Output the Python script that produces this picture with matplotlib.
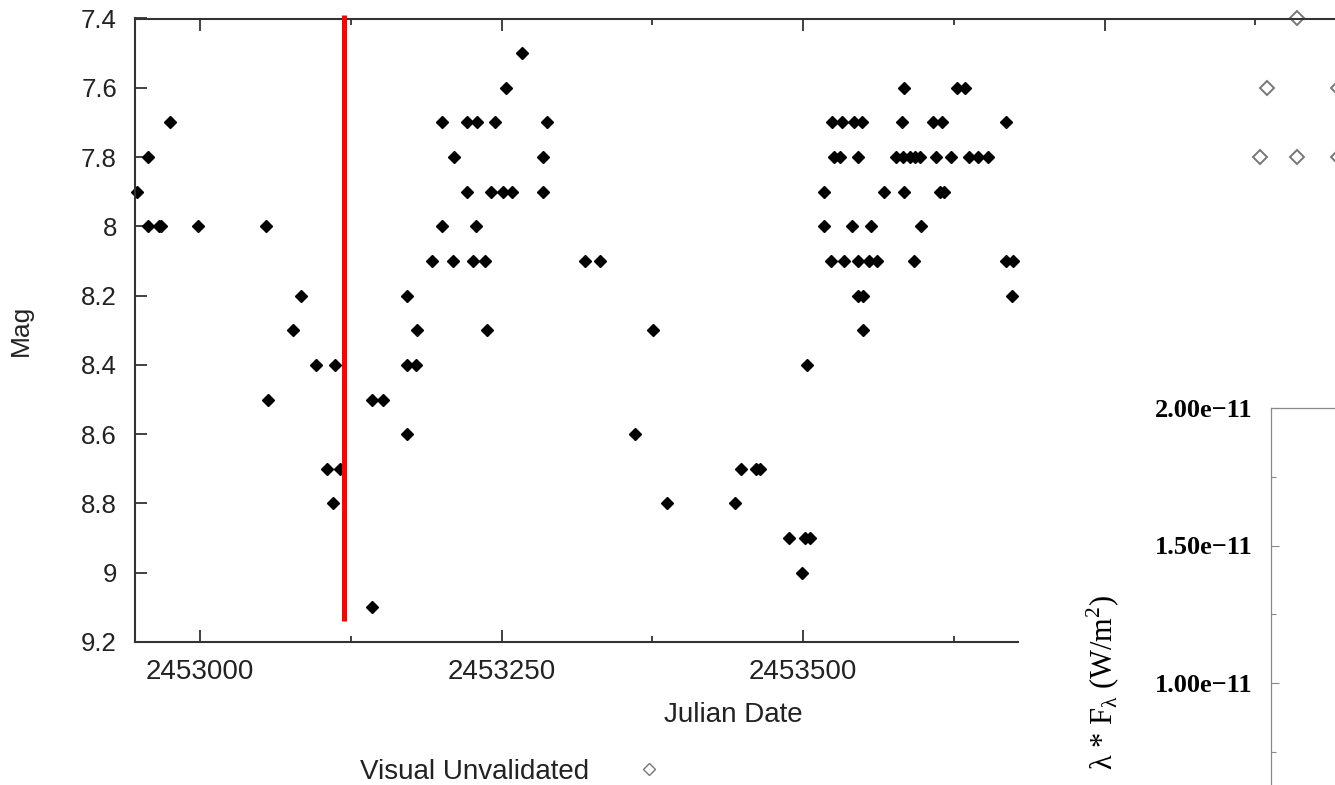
import matplotlib
matplotlib.use("Agg")
import matplotlib.pyplot as plt
from matplotlib.lines import Line2D
from matplotlib.patches import Rectangle
from matplotlib.ticker import FixedLocator, FuncFormatter, MultipleLocator

plt.rcParams['font.family'] = ['Liberation Sans', 'DejaVu Sans']

# Visual observations (filled diamonds), one list of Julian dates per magnitude
mag_rows = [7.5, 7.6, 7.7, 7.8, 7.9, 8.0, 8.1, 8.2, 8.3, 8.4, 8.5, 8.6, 8.7, 8.8, 8.9, 9.0, 9.1]
jd_rows = [
    [2453267],
    [2453254, 2453584, 2453628, 2453634],
    [2452975, 2453201, 2453221, 2453230, 2453245, 2453288, 2453524, 2453532,
     2453542, 2453549, 2453582, 2453608, 2453615, 2453668],
    [2452957, 2453211, 2453284, 2453526, 2453531, 2453546, 2453577, 2453583,
     2453589, 2453593, 2453597, 2453610, 2453623, 2453638, 2453645, 2453653],
    [2452948, 2453221, 2453241, 2453251, 2453259, 2453284, 2453517, 2453567,
     2453584, 2453614, 2453617],
    [2452957, 2452966, 2452968, 2452998, 2453055, 2453201, 2453229, 2453517,
     2453541, 2453556, 2453598],
    [2453192, 2453210, 2453226, 2453236, 2453319, 2453332, 2453523, 2453534,
     2453546, 2453555, 2453561, 2453592, 2453668, 2453674],
    [2453084, 2453172, 2453546, 2453550, 2453673],
    [2453077, 2453180, 2453238, 2453376, 2453550],
    [2453096, 2453112, 2453172, 2453179, 2453503],
    [2453056, 2453143, 2453152],
    [2453172, 2453361],
    [2453105, 2453116, 2453449, 2453461, 2453464],
    [2453110, 2453387, 2453444],
    [2453488, 2453502, 2453506],
    [2453499],
    [2453143],
]

# Visual unvalidated observations (open diamonds)
jd_unval = [2453910, 2453885, 2453879, 2453910, 2453944, 2453944]
mag_unval = [7.4, 7.6, 7.8, 7.8, 7.6, 7.8]

# red marker line
marker_jd = 2453119
marker_mag = [7.39, 9.14]

# fragment of the flux plot in the lower right
flux_ticks = [1.0e-11, 1.5e-11, 2.0e-11]
flux_minor = [0.75e-11, 1.25e-11, 1.75e-11]
flux_labels = ['1.00e\u221211', '1.50e\u221211', '2.00e\u221211']

jd = [d for row in jd_rows for d in row]
mag = [m for m, row in zip(mag_rows, jd_rows) for _ in row]

W, H = 1335, 785
fig = plt.figure(figsize=(W / 100, H / 100), dpi=100)


def box(left, top, right, bottom):
    return [left / W, 1 - bottom / H, (right - left) / W, (bottom - top) / H]


ax = fig.add_axes(box(135, 18.5, 1345, 642))
ax.plot(jd, mag, linestyle='none', marker='D', ms=6, mfc='black', mec='black',
        mew=1, clip_on=False, zorder=2)
ax.plot(jd_unval, mag_unval, linestyle='none', marker='D', ms=7, mfc='white',
        mec='#777777', mew=1.4, clip_on=False, zorder=2)
ax.plot([marker_jd, marker_jd], marker_mag, color='red', lw=3.6,
        solid_capstyle='butt', clip_on=False, zorder=3)

ax.set_xlim(2452946.1, 2452946.1 + 1210 / 1.206)
ax.set_ylim(9.2, 7.4)
ax.xaxis.set_major_locator(MultipleLocator(250))
ax.xaxis.set_minor_locator(MultipleLocator(125))
ax.yaxis.set_major_locator(MultipleLocator(0.2))
ax.yaxis.set_major_formatter(FuncFormatter(lambda v, p: f"{round(v, 1):g}"))
# labels past 2453600 would sit under the cut-out, so leave them blank
ax.xaxis.set_major_formatter(
    FuncFormatter(lambda v, p: f"{int(round(v))}" if v < 2453600 else ""))

ax.tick_params(axis='x', which='both', direction='in', top=True, bottom=True,
               color='#333333', width=1.3, labelsize=20, labelcolor='#222222', pad=12)
ax.tick_params(axis='x', which='major', length=8.6)
ax.tick_params(axis='x', which='minor', length=4.5)
ax.tick_params(axis='y', which='major', direction='in', left=True, right=False,
               length=8.6, color='#333333', width=1.3, labelsize=18.5,
               labelcolor='#222222', pad=13)
ax.spines['right'].set_visible(False)
for side in ['left', 'top', 'bottom']:
    ax.spines[side].set_color('#333333')
    ax.spines[side].set_linewidth(1.5)

ax.set_xlabel('Julian Date', fontsize=20, color='#222222')
ax.xaxis.set_label_coords((733.5 - 135) / 1210, (642 - 715) / 623.5)
ax.xaxis.label.set_va('center')
ax.set_ylabel('Mag', fontsize=19, color='#222222')
ax.yaxis.set_label_coords((21 - 135) / 1210, 0.5)
ax.yaxis.label.set_va('center')

handle = Line2D([], [], linestyle='none', marker='D', ms=6.5, mfc='none',
                mec='#777777', mew=1)
fig.legend(handles=[handle], labels=['Visual Unvalidated'], loc='center left',
           bbox_to_anchor=(360 / W, 1 - 772 / H), frameon=False, markerfirst=False,
           fontsize=20, labelcolor='#222222', borderpad=0, borderaxespad=0,
           handletextpad=1.15, handlelength=2)

# white cut-out with the other plot's corner
fig.add_artist(Rectangle((1019 / W, 0), 1 - 1019 / W, 385 / H, transform=fig.transFigure,
                         facecolor='white', edgecolor='none', zorder=2))

ax2 = fig.add_axes(box(1271, 408, 1345, 785))
ax2.set_zorder(3)
ax2.set_ylim(2e-11 - 377 / 137.5 * 0.5e-11, 2e-11)
ax2.set_xticks([])
ax2.yaxis.set_major_locator(FixedLocator(flux_ticks))
ax2.yaxis.set_minor_locator(FixedLocator(flux_minor))
ax2.set_yticklabels(flux_labels, fontfamily='Liberation Serif', fontweight='bold',
                    fontsize=19)
ax2.tick_params(axis='y', which='both', direction='in', color='#8a8a8a', width=0.8, pad=13)
ax2.tick_params(axis='y', which='major', length=6)
ax2.tick_params(axis='y', which='minor', length=3.5)
for side in ['bottom', 'right']:
    ax2.spines[side].set_visible(False)
for side in ['left', 'top']:
    ax2.spines[side].set_color('#8a8a8a')
    ax2.spines[side].set_linewidth(0.9)
ax2.set_ylabel('\u03bb * F$_\\mathregular{\u03bb}$ (W/m$^\\mathregular{2}$)',
               fontfamily='Liberation Serif', fontsize=22)
ax2.yaxis.set_label_coords((1103 - 1271) / 74, (785 - 682) / 377)
ax2.yaxis.label.set_va('center')

fig.savefig('out.png', dpi=100)
